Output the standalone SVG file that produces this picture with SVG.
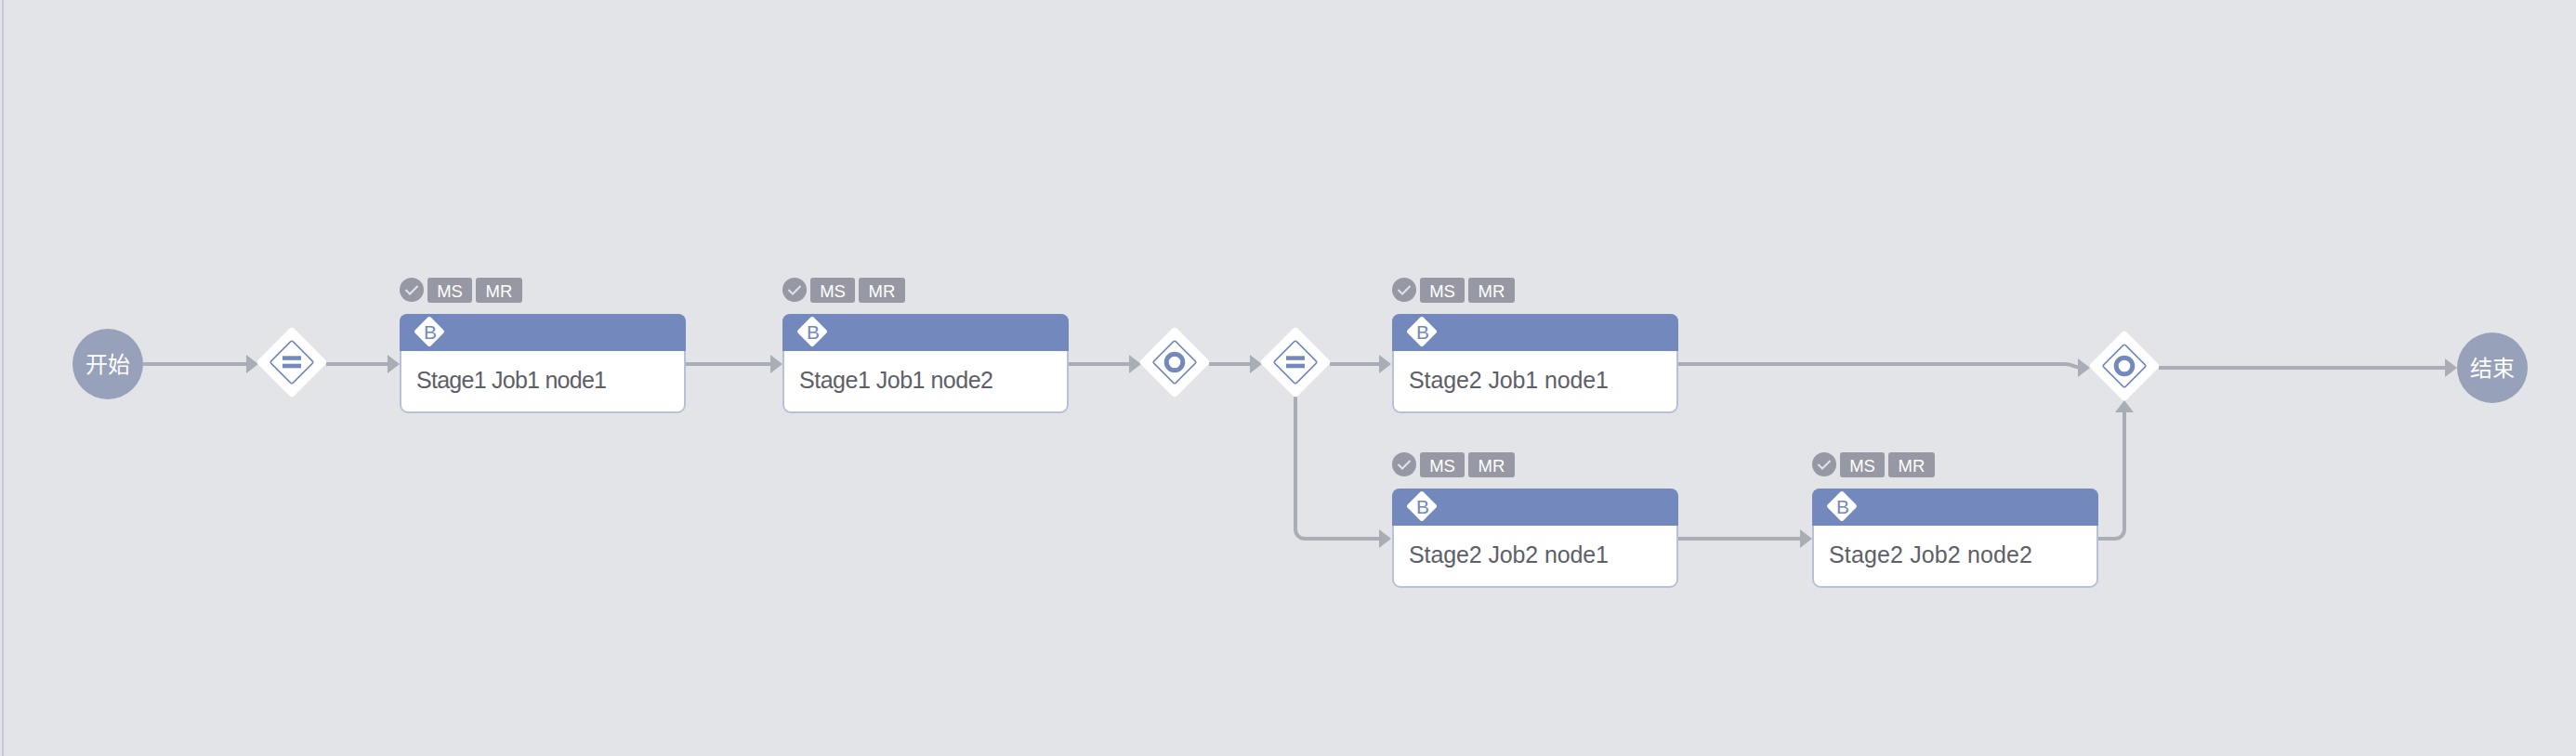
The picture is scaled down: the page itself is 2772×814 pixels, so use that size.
<svg xmlns="http://www.w3.org/2000/svg" width="2772" height="814" viewBox="0 0 2772 814">
<style>
.bg{fill:#e3e4e8}
.edge{fill:none;stroke:#a9aeb6;stroke-width:4}
.arrow{fill:#a9aeb6}
.term{fill:#97a1ba}
.termt{font:24px "Noto Sans CJK SC","Noto Sans",sans-serif;fill:#fff;text-anchor:middle}
.gw{fill:#fff}
.gwi{fill:none;stroke:#7389bd;stroke-width:1.6}
.bar{fill:#7389bd}
.ring{fill:none;stroke:#7389bd;stroke-width:5}
.body{fill:#fff;stroke:#b6c1d5;stroke-width:2}
.head{fill:#7389bd}
.label{font:25px "Liberation Sans",Arial,sans-serif;fill:#5e6068}
.bd{fill:#fff}
.b{font:21px "Liberation Sans",Arial,sans-serif;fill:#7389bd;text-anchor:middle}
.badge{fill:#9699a3}
.bt{font:18.5px "Liberation Sans",Arial,sans-serif;fill:#fff;text-anchor:middle}
.chk{fill:none;stroke:#e3e4e8;stroke-width:2}
</style>
<defs>
<polygon id="ah" class="arrow" points="0,0 -13,-10 -13,10"/>
<g id="gwbase">
<rect class="gw" x="-27.4" y="-27.4" width="54.8" height="54.8" rx="4" transform="rotate(45)"/>
<rect class="gwi" x="-16.6" y="-16.6" width="33.2" height="33.2" rx="2" transform="rotate(45)"/>
</g>
<g id="bars"><rect class="bar" x="-10" y="-6.7" width="20" height="4.5"/><rect class="bar" x="-10" y="1.7" width="20" height="4.6"/></g>
<circle id="ringc" class="ring" r="8.8"/>
<g id="node">
<rect class="body" x="1" y="1" width="306" height="105" rx="8"/>
<path class="head" d="M0 40V8a8 8 0 0 1 8-8H300a8 8 0 0 1 8 8V40Z"/>
<rect class="bd" x="-12" y="-12" width="24" height="24" rx="2.5" transform="translate(32 19) rotate(45)"/>
<circle class="badge" cx="13" cy="-26" r="13"/>
<path class="chk" d="M6.5 -26l4.5 4.5 8.5-8.5"/>
<rect class="badge" x="30" y="-39" width="48" height="27" rx="3"/>
<rect class="badge" x="82" y="-39" width="50" height="27" rx="3"/>
</g>
</defs>
<rect class="bg" width="2772" height="814"/>
<rect x="2" y="0" width="2" height="814" fill="#c5cadb"/>
<g id="connectors">
<path class="edge" d="M154 392H268"/><use href="#ah" x="278" y="392"/>
<path class="edge" d="M351 392H420"/><use href="#ah" x="430" y="392"/>
<path class="edge" d="M738 392H832"/><use href="#ah" x="842" y="392"/>
<path class="edge" d="M1150 392H1218"/><use href="#ah" x="1228" y="392"/>
<path class="edge" d="M1301 392H1348"/><use href="#ah" x="1358" y="392"/>
<path class="edge" d="M1431 392H1487"/><use href="#ah" x="1497" y="392"/>
<path class="edge" d="M1394 427V570a10 10 0 0 0 10 10H1487"/><use href="#ah" x="1497" y="580"/>
<path class="edge" d="M1806 392H2222C2231 392 2232 396 2240 396"/><use href="#ah" x="2249" y="396"/>
<path class="edge" d="M1806 580H1940"/><use href="#ah" x="1950" y="580"/>
<path class="edge" d="M2258 580H2276a10 10 0 0 0 10-10V441"/><use href="#ah" transform="translate(2286 431) rotate(-90)"/>
<path class="edge" d="M2323 396H2634"/><use href="#ah" x="2644" y="396"/>
</g>
<g id="start"><circle class="term" cx="116" cy="392" r="38"/><text class="termt" x="116" y="401">开始</text></g>
<g id="gateway1" transform="translate(314 390)"><use href="#gwbase"/><use href="#bars"/></g>
<g id="stage1-job1-node1"><use href="#node" x="430" y="338"/><text class="b" x="463" y="365">B</text><text class="bt" x="484" y="320">MS</text><text class="bt" x="537" y="320">MR</text><text class="label" x="448" y="418" textLength="205">Stage1 Job1 node1</text></g>
<g id="stage1-job1-node2"><use href="#node" x="842" y="338"/><text class="b" x="875" y="365">B</text><text class="bt" x="896" y="320">MS</text><text class="bt" x="949" y="320">MR</text><text class="label" x="860" y="418" textLength="209">Stage1 Job1 node2</text></g>
<g id="gateway2" transform="translate(1264 390)"><use href="#gwbase"/><use href="#ringc"/></g>
<g id="gateway3" transform="translate(1394 390)"><use href="#gwbase"/><use href="#bars"/></g>
<g id="stage2-job1-node1"><use href="#node" x="1498" y="338"/><text class="b" x="1531" y="365">B</text><text class="bt" x="1552" y="320">MS</text><text class="bt" x="1605" y="320">MR</text><text class="label" x="1516" y="418" textLength="215">Stage2 Job1 node1</text></g>
<g id="stage2-job2-node1"><use href="#node" x="1498" y="526"/><text class="b" x="1531" y="553">B</text><text class="bt" x="1552" y="508">MS</text><text class="bt" x="1605" y="508">MR</text><text class="label" x="1516" y="606" textLength="215">Stage2 Job2 node1</text></g>
<g id="stage2-job2-node2"><use href="#node" x="1950" y="526"/><text class="b" x="1983" y="553">B</text><text class="bt" x="2004" y="508">MS</text><text class="bt" x="2057" y="508">MR</text><text class="label" x="1968" y="606" textLength="219">Stage2 Job2 node2</text></g>
<g id="gateway4" transform="translate(2286 394)"><use href="#gwbase"/><use href="#ringc"/></g>
<g id="end"><circle class="term" cx="2682" cy="396" r="38"/><text class="termt" x="2682" y="405">结束</text></g>
</svg>
